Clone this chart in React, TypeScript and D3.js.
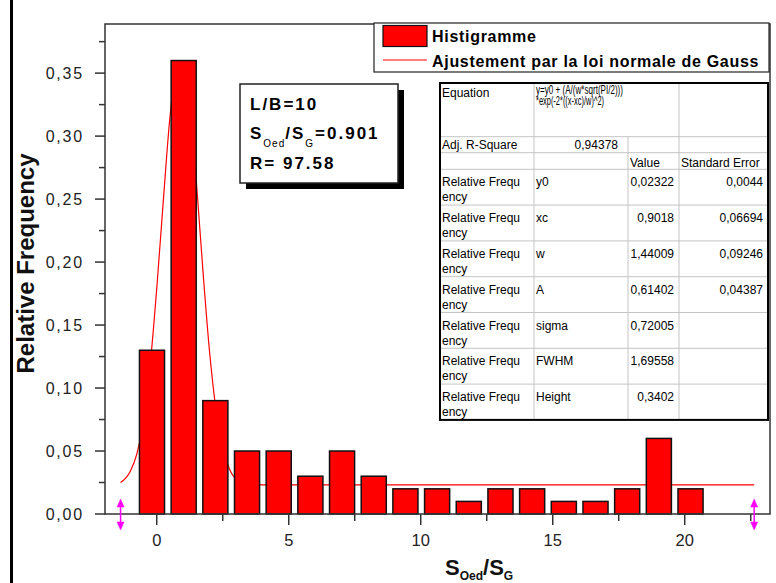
import * as d3 from "d3";

// histogram (bin centre, relative frequency)
const BIN_CENTERS = [-0.18, 1.02, 2.22, 3.42, 4.62, 5.82, 7.02, 8.22, 9.42, 10.62, 11.82, 13.02, 14.22, 15.42, 16.62, 17.82, 19.02, 20.22];
const REL_FREQ = [0.13, 0.36, 0.09, 0.05, 0.05, 0.03, 0.05, 0.03, 0.02, 0.02, 0.01, 0.02, 0.02, 0.01, 0.01, 0.02, 0.06, 0.02];

// gaussian fit line
const FIT_X = [-1.37, -1.0, -0.75, -0.5, -0.25, 0, 0.25, 0.5, 0.75, 0.9, 1.05, 1.25, 1.5, 1.75, 2.0, 2.25, 2.5, 2.75, 3.0, 3.5, 4.0, 22.63];
const FIT_Y = [0.025, 0.034, 0.048, 0.074, 0.118, 0.179, 0.249, 0.315, 0.354, 0.359, 0.356, 0.326, 0.264, 0.193, 0.129, 0.082, 0.052, 0.036, 0.028, 0.024, 0.0232, 0.0232];

const X_MAJOR = [0, 5, 10, 15, 20];
const X_MINOR = [2.5, 7.5, 12.5, 17.5, 22.5];
const Y_MAJOR = [0, 0.05, 0.1, 0.15, 0.2, 0.25, 0.3, 0.35];
const Y_MINOR = [0.025, 0.075, 0.125, 0.175, 0.225, 0.275, 0.325, 0.375];

const FIT_PARAMS = ["y0", "xc", "w", "A", "sigma", "FWHM", "Height"];
const FIT_VALUES = ["0,02322", "0,9018", "1,44009", "0,61402", "0,72005", "1,69558", "0,3402"];
const FIT_ERRORS = ["0,0044", "0,06694", "0,09246", "0,04387", "", "", ""];

const WIDTH = 776;
const HEIGHT = 583;
const MARGIN = { top: 24, right: 6, bottom: 69, left: 105 };
const FONT = "'Liberation Sans', Arial, sans-serif";

const locale = d3.formatLocale({ decimal: ",", thousands: ".", grouping: [3], currency: ["", ""] });
const fmtY = locale.format(".2f");

function FitTable() {
  const x0 = 440, x1 = 534, x2 = 628, x3 = 679, x4 = 768;
  const top = 83, r1 = 136.7, r2 = 152.7, r3 = 169.3, rowH = 35.8;
  const bottom = r3 + rowH * FIT_PARAMS.length;
  const grid = "#c4c4c4";
  const fs = { fontFamily: FONT, fontSize: 12 };
  return (
    <g>
      <rect x={x0} y={top} width={x4 - x0} height={bottom - top} fill="#fff" />
      {/* horizontal lines */}
      {[r1, r2, r3, ...FIT_PARAMS.slice(1).map((_, i) => r3 + rowH * (i + 1))].map((y, i) => (
        <line key={"h" + i} x1={x0} x2={x4} y1={y} y2={y} stroke={grid} />
      ))}
      <line x1={x1} x2={x1} y1={top} y2={bottom} stroke={grid} />
      <line x1={x2} x2={x2} y1={r1} y2={bottom} stroke={grid} />
      <line x1={x3} x2={x3} y1={top} y2={bottom} stroke={grid} />
      <rect x={x0} y={top} width={x4 - x0} height={bottom - top} fill="none" stroke="#000" strokeWidth={2} />

      <text x={x0 + 2} y={top + 14} {...fs}>Equation</text>
      <text x={x1 + 2} y={top + 11} fontFamily={FONT} fontSize={12} textLength={87} lengthAdjust="spacingAndGlyphs">y=y0 + (A/(w*sqrt(PI/2)))</text>
      <text x={x1 + 2} y={top + 21.5} fontFamily={FONT} fontSize={12} textLength={68} lengthAdjust="spacingAndGlyphs">*exp(-2*((x-xc)/w)^2)</text>

      <text x={x0 + 2} y={r1 + 12.5} {...fs}>Adj. R-Square</text>
      <text x={x2 - 10} y={r1 + 12.5} textAnchor="end" {...fs}>0,94378</text>

      <text x={x2 + 2} y={r2 + 14} {...fs}>Value</text>
      <text x={x3 + 2} y={r2 + 14} {...fs}>Standard Error</text>

      {FIT_PARAMS.map((p, i) => {
        const t = r3 + rowH * i;
        return (
          <g key={p}>
            <text x={x0 + 2} y={t + 17} {...fs}>Relative Frequ</text>
            <text x={x0 + 2} y={t + 32} {...fs}>ency</text>
            <text x={x1 + 2} y={t + 17} {...fs}>{p}</text>
            <text x={x3 - 5} y={t + 17} textAnchor="end" {...fs}>{FIT_VALUES[i]}</text>
            <text x={x4 - 5} y={t + 17} textAnchor="end" {...fs}>{FIT_ERRORS[i]}</text>
          </g>
        );
      })}
    </g>
  );
}

export default function App() {
  const left = MARGIN.left;
  const right = WIDTH - MARGIN.right;
  const top = MARGIN.top;
  const bottom = HEIGHT - MARGIN.bottom;

  const xScale = d3.scaleLinear().domain([-1.96, 23.23]).range([left, right]);
  const yScale = d3.scaleLinear().domain([0, 0.389]).range([bottom, top]);

  const barW = xScale(0.95) - xScale(0);

  const fitPoints: [number, number][] = FIT_X.map((x, i) => [x, FIT_Y[i]]);
  const fitPath = d3
    .line<[number, number]>()
    .x((d) => xScale(d[0]))
    .y((d) => yScale(d[1]))
    .curve(d3.curveMonotoneX)(fitPoints);

  const markerXs = [FIT_X[0], FIT_X[FIT_X.length - 1]];
  const axisColor = "#333";

  return (
    <svg width={WIDTH} height={HEIGHT} style={{ position: "absolute", left: 0, top: 0, background: "#fff" }}>
      <rect x={0} y={0} width={WIDTH} height={HEIGHT} fill="#fff" />
      {/* page edge */}
      <line x1={11.5} x2={11.5} y1={0} y2={HEIGHT} stroke="#000" strokeWidth={3} />

      {/* fit line sits behind the columns */}
      <path d={fitPath ?? ""} fill="none" stroke="#ff0000" strokeWidth={1.2} />

      {BIN_CENTERS.map((c, i) => (
        <rect
          key={i}
          x={xScale(c) - barW / 2}
          y={yScale(REL_FREQ[i])}
          width={barW}
          height={bottom - yScale(REL_FREQ[i])}
          fill="#ff0000"
          stroke="#111"
          strokeWidth={1.5}
        />
      ))}

      {/* frame */}
      <rect x={left} y={top} width={right - left} height={bottom - top} fill="none" stroke={axisColor} strokeWidth={1.5} />

      {/* x ticks */}
      {X_MAJOR.map((t) => (
        <g key={"xm" + t}>
          <line x1={xScale(t)} x2={xScale(t)} y1={bottom} y2={bottom + 11} stroke={axisColor} strokeWidth={1.5} />
          <text x={xScale(t)} y={bottom + 31.5} textAnchor="middle" fontFamily={FONT} fontSize={16.5} fill="#222">
            {t}
          </text>
        </g>
      ))}
      {X_MINOR.map((t) => (
        <line key={"xn" + t} x1={xScale(t)} x2={xScale(t)} y1={bottom} y2={bottom + 7} stroke={axisColor} strokeWidth={1.5} />
      ))}

      {/* y ticks */}
      {Y_MAJOR.map((t) => (
        <g key={"ym" + t}>
          <line x1={left} x2={left - 10} y1={yScale(t)} y2={yScale(t)} stroke={axisColor} strokeWidth={1.5} />
          <text x={84} y={yScale(t) + 6} textAnchor="end" fontFamily={FONT} fontSize={16} letterSpacing={1.8} fill="#222">
            {fmtY(t)}
          </text>
        </g>
      ))}
      {Y_MINOR.map((t) => (
        <line key={"yn" + t} x1={left} x2={left - 6} y1={yScale(t)} y2={yScale(t)} stroke={axisColor} strokeWidth={1.5} />
      ))}

      {/* range markers */}
      {markerXs.map((mx, i) => {
        const px = xScale(mx);
        return (
          <g key={"mk" + i} fill="#ff00ff" stroke="#ff00ff">
            <line x1={px} x2={px} y1={503} y2={526} strokeWidth={1.5} />
            <path d={`M${px - 3.5},507 L${px},499 L${px + 3.5},507 Z`} strokeWidth={0.5} />
            <path d={`M${px - 3.5},522 L${px},530 L${px + 3.5},522 Z`} strokeWidth={0.5} />
          </g>
        );
      })}

      {/* axis titles */}
      <text transform="translate(34,263.5) rotate(-90)" textAnchor="middle" fontFamily={FONT} fontSize={24} fontWeight="bold" fill="#111">
        Relative Frequency
      </text>
      <text x={445} y={575} fontFamily={FONT} fontSize={22} fontWeight="bold" fill="#111">
        S<tspan fontSize={12} dy={5}>Oed</tspan>
        <tspan dy={-5}>/S</tspan>
        <tspan fontSize={12} dy={5}>G</tspan>
      </text>

      {/* info box */}
      <rect x={246} y={90} width={158} height={99} fill="#000" />
      <rect x={240} y={84} width={158} height={99} fill="#fff" stroke="#222" strokeWidth={1.5} />
      <g fontFamily={FONT} fontSize={17} fontWeight="bold" letterSpacing={2} fill="#000">
        <text x={250} y={110}>L/B=10</text>
        <text x={250} y={138.5}>
          S<tspan fontSize={10} fontWeight="normal" letterSpacing={1} dy={8}>Oed</tspan>
          <tspan dy={-8}>/S</tspan>
          <tspan fontSize={10} fontWeight="normal" dy={8}>G</tspan>
          <tspan dy={-8}>=0.901</tspan>
        </text>
        <text x={250} y={168.5}>R= 97.58</text>
      </g>

      {/* legend */}
      <rect x={374} y={23} width={395} height={49} fill="#fff" stroke="#222" strokeWidth={1.2} />
      <rect x={383} y={25.5} width={44} height={21} fill="#ff0000" stroke="#111" strokeWidth={1.2} />
      <line x1={383} x2={427} y1={60} y2={60} stroke="#ff0000" strokeWidth={1.2} />
      <g fontFamily={FONT} fontSize={16} fontWeight="bold" letterSpacing={0.7} fill="#000">
        <text x={432} y={42}>Histigramme</text>
        <text x={432} y={67}>Ajustement par la loi normale de Gauss</text>
      </g>

      <FitTable />
    </svg>
  );
}
